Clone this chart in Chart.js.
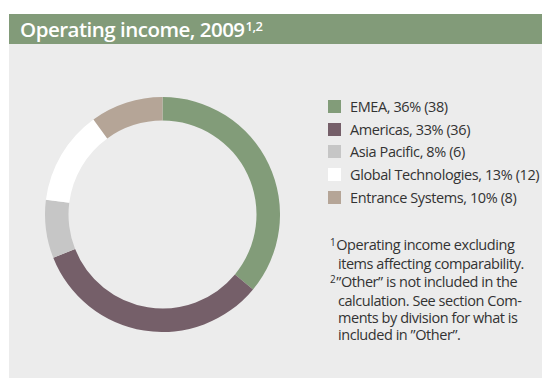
<!DOCTYPE html>
<html>
<head>
<meta charset="utf-8">
<script src="https://cdn.jsdelivr.net/npm/chart.js@4"></script>
<style>
body{margin:0;width:542px;height:378px;background:#fff;font-family:"Open Sans",sans-serif;position:relative;overflow:hidden}
#head{position:absolute;left:9px;top:14px;width:533px;height:30px;background:#829b79;color:#fff;font-size:20.5px;font-weight:600;line-height:30px;padding-left:11px;box-sizing:border-box;letter-spacing:-0.5px}
#head sup{font-size:13px;font-weight:600;vertical-align:0;position:relative;top:-6px;margin-left:1px}
#panel{position:absolute;left:9px;top:44px;width:533px;height:334px;background:#ececec}
#wrap{position:absolute;left:45px;top:97px;width:235px;height:235px}
#legend{position:absolute;left:328px;top:95px;font-size:14.5px;color:#333;letter-spacing:-0.4px;white-space:nowrap;width:214px}
.row{height:22.7px;display:flex;align-items:center}
.sw{width:13px;height:13px;margin-right:9px;flex:none}
#notes{position:absolute;left:330px;top:236px;font-size:14.5px;line-height:17.3px;color:#333;letter-spacing:-0.45px;width:215px;white-space:nowrap}
#notes div{padding-left:8px;text-indent:-8px}
#notes sup{font-size:10px;vertical-align:0;position:relative;top:-4px;margin-right:1px}
</style>
</head>
<body>
<div id="head">Operating income, 2009<sup>1,2</sup></div>
<div id="panel"></div>
<div id="wrap"><canvas id="c"></canvas></div>
<div id="legend"></div>
<div id="notes">
<div><sup>1</sup>Operating income excluding<br>items affecting comparability.</div>
<div><sup>2</sup>”Other” is not included in the<br>calculation. See section Com-<br>ments by division for what is<br>included in ”Other”.</div>
</div>
<script>
const regions = ["EMEA", "Americas", "Asia Pacific", "Global Technologies", "Entrance Systems"];
const shares = [36, 33, 8, 13, 10];
const msek = [38, 36, 6, 12, 8];
const colors = ["#829c79", "#755f69", "#c6c6c6", "#ffffff", "#b5a597"];

// legend
let lg = document.getElementById("legend");
regions.forEach((r, i) => {
  let row = document.createElement("div");
  row.className = "row";
  row.innerHTML = '<span class="sw" style="background:' + colors[i] + '"></span>' +
    r + ", " + shares[i] + "% (" + msek[i] + ")";
  lg.appendChild(row);
});

new Chart(document.getElementById("c"), {
  type: "doughnut",
  data: {
    labels: regions,
    datasets: [{
      data: shares,
      backgroundColor: colors,
      borderWidth: 0
    }]
  },
  options: {
    responsive: true,
    maintainAspectRatio: false,
    animation: false,
    cutout: "80%",
    layout: { padding: 0 },
    plugins: { legend: { display: false }, tooltip: { enabled: false } }
  }
});
</script>
</body>
</html>
